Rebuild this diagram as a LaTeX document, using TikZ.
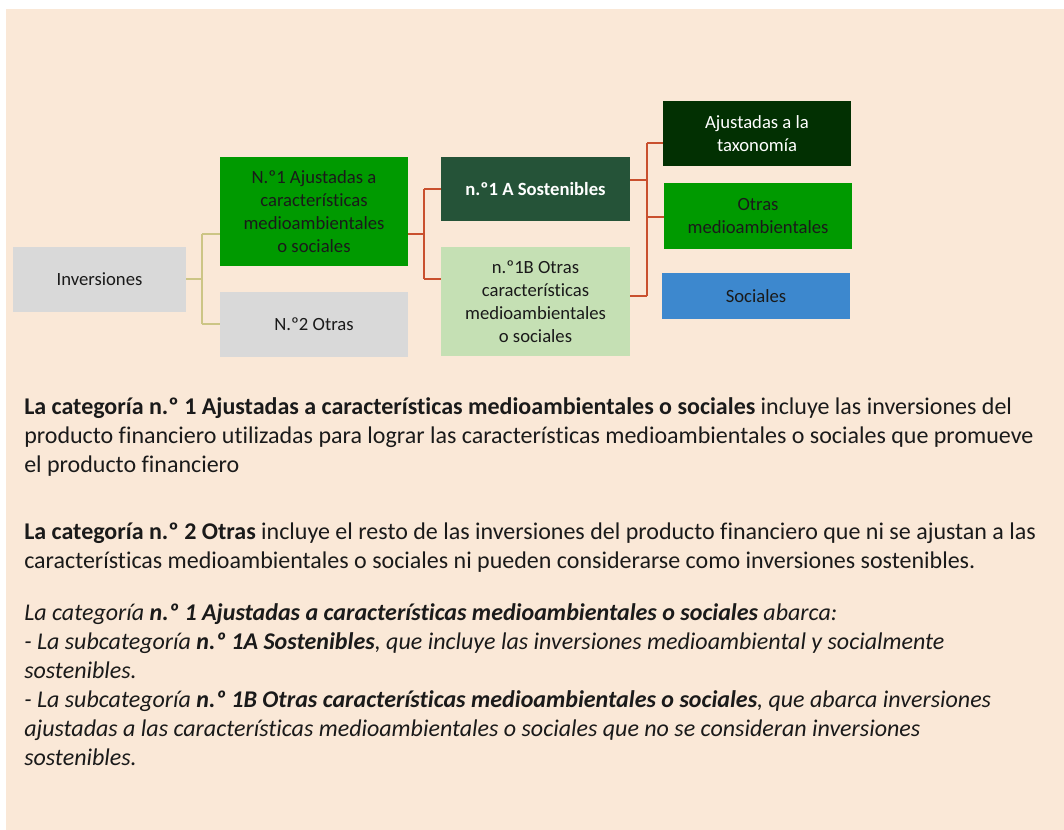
\documentclass[tikz,border=0pt]{standalone}
\usepackage{fontspec}
\setmainfont{Carlito}[Ligatures=NoCommon]
\usetikzlibrary{calc}

\definecolor{fondo}{HTML}{FAE8D7}
\definecolor{gris}{HTML}{D9D9D9}
\definecolor{verde}{HTML}{009A00}
\definecolor{verdeosc}{HTML}{255338}
\definecolor{verdetax}{HTML}{023002}
\definecolor{verdeclaro}{HTML}{C5E0B4}
\definecolor{azul}{HTML}{3D88CE}
\definecolor{rojizo}{HTML}{C9502E}
\definecolor{caqui}{HTML}{CCC585}
\definecolor{texto}{HTML}{1A1A1A}

\begin{document}
\begin{tikzpicture}[x=0.75pt,y=-0.75pt,
    caja/.style={rectangle,inner sep=0pt,align=center,text=texto,
        font=\fontsize{14}{17.25}\selectfont},
    lineaA/.style={caqui,line width=1.5pt},
    lineaB/.style={rojizo,line width=1.5pt},
    parrafo/.style={anchor=north west,inner sep=0pt,align=left,text=texto,
        font=\fontsize{18}{21.75}\selectfont}]
    \useasboundingbox (0,0) rectangle (1064,830);

    % Fondo
    \fill[fondo] (6,9) rectangle (1064,830);

    % Cajas
    \node[caja,fill=gris,minimum width=129.75pt,minimum height=48.75pt] (inv) at (99.5,279.5) {Inversiones};
    \node[caja,fill=verde,minimum width=141pt,minimum height=81.75pt] (n1) at (314,211.5)
        {N.º1 Ajustadas a\\características\\medioambientales\\o sociales};
    \node[caja,fill=gris,minimum width=141pt,minimum height=48.75pt] (n2) at (314,324.5) {N.º2 Otras};
    \node[caja,fill=verdeosc,text=white,minimum width=141.75pt,minimum height=48pt] (n1a) at (535.5,189)
        {\textbf{n.º1 A Sostenibles}};
    \node[caja,fill=verdeclaro,minimum width=141.75pt,minimum height=81.75pt] (n1b) at (535.5,301.5)
        {n.º1B Otras\\características\\medioambientales\\o sociales};
    \node[caja,fill=verdetax,text=white,minimum width=141pt,minimum height=48.75pt] (tax) at (757,133.5)
        {Ajustadas a la\\taxonomía};
    \node[caja,fill=verde,minimum width=141pt,minimum height=49.5pt] (otr) at (758,216)
        {Otras\\medioambientales};
    \node[caja,fill=azul,minimum width=141pt,minimum height=34.5pt] (soc) at (756,296) {Sociales};

    % Conectores
    \coordinate (ka) at (202,234);
    \coordinate (kb) at (202,324);
    \draw[lineaA] (inv.east) -- (inv.east -| ka);
    \draw[lineaA] (ka) -- (kb);
    \draw[lineaA] (ka) -- (ka -| n1.west);
    \draw[lineaA] (kb) -- (kb -| n2.west);

    \coordinate (ra) at (424,189);
    \coordinate (rb) at (424,279);
    \coordinate (rm) at (424,234);
    \draw[lineaB] (rm -| n1.east) -- (rm);
    \draw[lineaB] (ra) -- (rb);
    \draw[lineaB] (ra) -- (ra -| n1a.west);
    \draw[lineaB] (rb) -- (rb -| n1b.west);

    \coordinate (sa) at (647,143);
    \coordinate (sb) at (647,296);
    \coordinate (sm) at (647,180);
    \coordinate (so) at (647,217);
    \draw[lineaB] (sa) -- (sb);
    \draw[lineaB] (sm -| n1a.east) -- (sm);
    \draw[lineaB] (sa) -- (sa -| tax.west);
    \draw[lineaB] (so) -- (so -| otr.west);
    \draw[lineaB] (sb -| n1b.east) -- (sb);

    % Texto
    \node[parrafo] (p1) at (24,397) {\textbf{La categoría n.º 1 Ajustadas a características medioambientales o sociales} incluye las inversiones del\\
        producto financiero utilizadas para lograr las características medioambientales o sociales que promueve\\
        el producto financiero};
    \node[parrafo] (p2) at (24,523) {\textbf{La categoría n.º 2 Otras} incluye el resto de las inversiones del producto financiero que ni se ajustan a las\\
        características medioambientales o sociales ni pueden considerarse como inversiones sostenibles.};
    \node[parrafo,font=\fontsize{18}{21.75}\selectfont\itshape] (p3) at (24,603)
        {La categoría \textbf{n.º 1 Ajustadas a características medioambientales o sociales} abarca:\\
        - La subcategoría \textbf{n.º 1A Sostenibles}, que incluye las inversiones medioambiental y socialmente\\
        sostenibles.\\
        - La subcategoría \textbf{n.º 1B Otras características medioambientales o sociales}, que abarca inversiones\\
        ajustadas a las características medioambientales o sociales que no se consideran inversiones\\
        sostenibles.};
\end{tikzpicture}
\end{document}
